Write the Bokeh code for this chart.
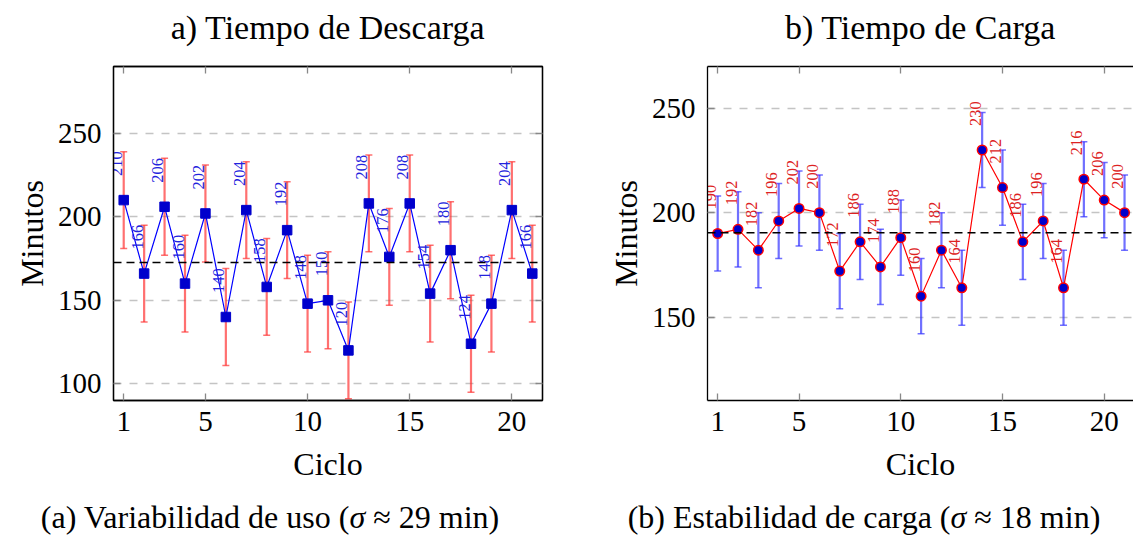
import numpy as np
from bokeh.plotting import figure
from bokeh.layouts import row, column
from bokeh.models import (ColumnDataSource, Whisker, TeeHead, Span, Range1d,
                          LinearAxis, FixedTicker, Div)
from bokeh.core.properties import value
from bokeh.embed import file_html
from bokeh.resources import INLINE

# ---------------- data ----------------
ciclos = list(range(1, 22))
descarga = [210, 166, 206, 160, 202, 140, 204, 158, 192, 148, 150,
            120, 208, 176, 208, 154, 180, 124, 148, 204, 166]
carga = [190, 192, 182, 196, 202, 200, 172, 186, 174, 188, 160,
         182, 164, 230, 212, 186, 196, 164, 216, 206, 200]
err_descarga = 29
err_carga = 18
x_ticks = [1, 5, 10, 15, 20]
y_ticks_a = [100, 150, 200, 250]
y_ticks_b = [150, 200, 250]
title_a = "a) Tiempo de Descarga"
title_b = "b) Tiempo de Carga"
caption_a = "(a) Variabilidad de uso (<i>σ</i> ≈ 29 min)"
caption_b = "(b) Estabilidad de carga (<i>σ</i> ≈ 18 min)"
x_label = "Ciclo"
y_label = "Minutos"

FONT = "Liberation Serif"
H = 500
TOP = 66
BOTTOM = 100


def deco_axis(ticks, label=None):
    ax = LinearAxis(ticker=FixedTicker(ticks=ticks),
                    major_label_text_font_size="1px",
                    major_label_text_color=None,
                    major_tick_in=7, major_tick_out=0,
                    major_tick_line_color="#888888", major_tick_line_width=1.3,
                    minor_tick_line_color=None, axis_line_color="black",
                    axis_line_width=1.3, major_label_standoff=0)
    if label:
        ax.axis_label = label
        ax.axis_label_text_font = FONT
        ax.axis_label_text_font_size = "34px"
        ax.axis_label_text_font_style = "normal"
        ax.axis_label_text_color = "black"
        ax.axis_label_standoff = 21
    return ax


def style_axes(p, yticks, ttl, right_axis=True):
    p.xaxis.ticker = FixedTicker(ticks=x_ticks)
    p.yaxis.ticker = FixedTicker(ticks=yticks)
    for ax in p.xaxis + p.yaxis:
        ax.major_label_text_font = FONT
        ax.major_label_text_font_size = "29px"
        ax.major_label_text_color = "black"
        ax.axis_label_text_font = FONT
        ax.axis_label_text_font_size = "32px"
        ax.axis_label_text_font_style = "normal"
        ax.axis_label_text_color = "black"
        ax.major_tick_in = 7
        ax.major_tick_out = 0
        ax.major_tick_line_color = "#888888"
        ax.major_tick_line_width = 1.3
        ax.minor_tick_line_color = None
        ax.axis_line_color = "black"
        ax.axis_line_width = 1.3
    p.xaxis.axis_label = x_label
    p.yaxis.axis_label = y_label
    p.xaxis.major_label_standoff = 11
    p.yaxis.major_label_standoff = 12
    p.xaxis.axis_label_standoff = 12
    p.yaxis.axis_label_standoff = 5
    p.xgrid.grid_line_color = None
    p.ygrid.ticker = FixedTicker(ticks=yticks)
    p.ygrid.grid_line_color = "#c4c4c4"
    p.ygrid.grid_line_width = 1.3
    p.ygrid.grid_line_dash = "8 8"
    p.add_layout(deco_axis(x_ticks, ttl), "above")
    if right_axis:
        p.add_layout(deco_axis(yticks), "right")


def caption_div(text, width, left_margin):
    return Div(text=text, width=width, height=35, margin=(0, 0, 0, left_margin),
               styles={"font-family": FONT, "font-size": "32px",
                       "line-height": "35px", "text-align": "center",
                       "color": "black", "white-space": "nowrap"})


def error_bars(src, color):
    return Whisker(base="x", lower="lo", upper="hi", source=src,
                   line_color=color, line_alpha=0.7, line_width=2.2,
                   upper_head=TeeHead(size=7, line_color=color, line_alpha=0.7, line_width=1.5),
                   lower_head=TeeHead(size=7, line_color=color, line_alpha=0.7, line_width=1.5))


# ---------------- left chart ----------------
src_a = ColumnDataSource(dict(
    x=ciclos, y=descarga,
    lo=[v - err_descarga for v in descarga],
    hi=[v + err_descarga for v in descarga],
    lab=[str(v) for v in descarga]))

WA, LA, RA = 588, 113, 46
pa = figure(width=WA, height=H, output_backend="svg", toolbar_location=None,
            x_range=Range1d(0.5, 21.5), y_range=Range1d(90, 290),
            min_border_left=LA, min_border_right=RA,
            min_border_top=TOP, min_border_bottom=BOTTOM)
pa.title.visible = False
pa.outline_line_color = "black"
pa.outline_line_width = 1.3
style_axes(pa, y_ticks_a, title_a, right_axis=True)

pa.add_layout(error_bars(src_a, "#ff3333"))
pa.add_layout(Span(location=float(np.mean(descarga)), dimension="width",
                   line_color="black", line_dash="8 5", line_width=1.5))
pa.line("x", "y", source=src_a, line_color="#0000ff", line_width=1.2)
pa.scatter("x", "y", source=src_a, marker="square", size=9.5,
           fill_color="#0000cc", line_color="#0000cc")
pa.text("x", "y", text="lab", source=src_a, angle=np.pi / 2,
        text_align="left", text_baseline="middle", x_offset=-7, y_offset=-24,
        text_font=value(FONT), text_font_size="16.5px", text_color="#2222dd")

# ---------------- right chart ----------------
src_b = ColumnDataSource(dict(
    x=ciclos, y=carga,
    lo=[v - err_carga for v in carga],
    hi=[v + err_carga for v in carga],
    lab=[str(v) for v in carga]))

WB, LB, RB = 1133 - WA, 119, 0
pb = figure(width=WB, height=H, output_backend="svg", toolbar_location=None,
            x_range=Range1d(0.5, 21.44), y_range=Range1d(110, 270),
            min_border_left=LB, min_border_right=RB,
            min_border_top=TOP, min_border_bottom=BOTTOM)
pb.title.visible = False
pb.outline_line_color = None
style_axes(pb, y_ticks_b, title_b, right_axis=False)

pb.add_layout(error_bars(src_b, "#3333ff"))
pb.add_layout(Span(location=float(np.mean(carga)), dimension="width",
                   line_color="black", line_dash="8 5", line_width=1.5))
pb.line("x", "y", source=src_b, line_color="#ff0000", line_width=1.2)
pb.scatter("x", "y", source=src_b, marker="circle", size=9.5,
           fill_color="#0000cc", line_color="#ff0000", line_width=1.5)
pb.text("x", "y", text="lab", source=src_b, angle=np.pi / 2,
        text_align="left", text_baseline="middle", x_offset=-7, y_offset=-24,
        text_font=value(FONT), text_font_size="16.5px", text_color="#dd2222")

# captions: left centred at x=270, right centred at x=864
cap_a = caption_div(caption_a, 540, 0)
cap_b = caption_div(caption_b, 538, 1133 - 538 - 540)

layout = column(row(pa, pb), row(cap_a, cap_b))
open("out.html", "w").write(file_html(layout, INLINE))
